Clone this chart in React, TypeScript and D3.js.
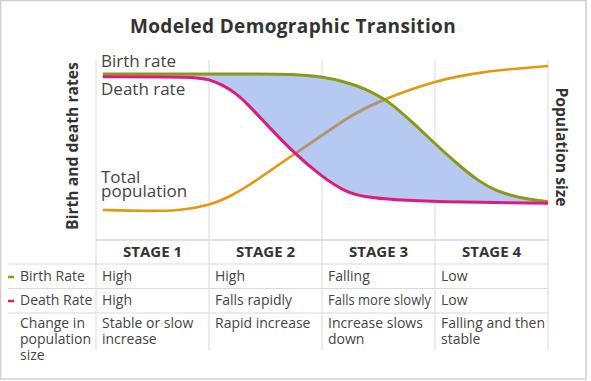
import React from "react";
import * as d3 from "d3";

// ---- Data (x positions in "stage" units 0..4) ----
const birthX = [0.06, 1.32, 1.76, 2.0, 2.2, 2.38, 2.56, 2.66, 2.83, 2.98, 3.19, 3.39, 3.54, 3.72, 4.0];
const birthRate = [41.71, 41.71, 41.71, 41.03, 39.77, 38.1, 35.32, 33.04, 28.8, 24.6, 19.14, 14.49, 12.21, 10.54, 9.43];

const deathX = [0.06, 0.885, 1.0, 1.12, 1.24, 1.35, 1.5, 1.76, 2.0, 2.2, 2.38, 2.66, 2.98, 4.0];
const deathRate = [41.03, 41.03, 40.37, 38.93, 36.83, 33.88, 29.25, 21.49, 15.75, 11.96, 10.54, 9.86, 9.43, 9.03];

const popX = [0.06, 0.44, 0.73, 1.0, 1.18, 1.33, 1.5, 1.76, 2.0, 2.2, 2.38, 2.56, 2.65, 2.98, 3.39, 4.0];
const popSize = [1.63, 1.57, 1.59, 1.87, 2.36, 2.92, 3.65, 4.8, 5.81, 6.71, 7.36, 7.85, 8.09, 8.84, 9.4, 9.72];

const stages = ["STAGE 1", "STAGE 2", "STAGE 3", "STAGE 4"];
const rowLabels = ["Birth Rate", "Death Rate"];
const birthRow = ["High", "High", "Falling", "Low"];
const deathRow = ["High", "Falls rapidly", "Falls more slowly", "Low"];
const changeRow = [
  ["Stable or slow", "increase"],
  ["Rapid increase"],
  ["Increase slows", "down"],
  ["Falling and then", "stable"],
];
const changeLabel = ["Change in", "population", "size"];

const COL_BIRTH = "#8a9a16";
const COL_DEATH = "#e0197f";
const COL_POP = "#e8960e";
const COL_FILL = "#b5c9f1";
const GRID = "#d9d9d9";
const TXT = "#444";
const FONT = "'Open Sans', sans-serif";

export default function App() {
  const x = d3.scaleLinear().domain([0, 4]).range([96, 548]);
  const yRate = d3.scaleLinear().domain([0, 45]).range([239, 61]);
  const yPop = d3.scaleLinear().domain([0, 10]).range([239, 61]);

  const birth = birthX.map((v, i) => [v, birthRate[i]] as [number, number]);
  const death = deathX.map((v, i) => [v, deathRate[i]] as [number, number]);
  const pop = popX.map((v, i) => [v, popSize[i]] as [number, number]);

  const rateLine = d3
    .line<[number, number]>()
    .x((d) => x(d[0]))
    .y((d) => yRate(d[1]))
    .curve(d3.curveBasis);
  const popLine = d3
    .line<[number, number]>()
    .x((d) => x(d[0]))
    .y((d) => yPop(d[1]))
    .curve(d3.curveBasis);

  const birthPath = rateLine(birth) || "";
  const deathPath = rateLine(death) || "";
  const deathRev = (rateLine([...death].reverse()) || "").replace(/^M/, "L");
  const fillPath = birthPath + deathRev + "Z";
  const popPath = popLine(pop) || "";

  const stageEdges = [0, 1, 2, 3, 4].map((s) => x(s));
  const rowYs = [264, 288.5, 313];

  return (
    <svg
      width={591}
      height={381}
      style={{ position: "absolute", left: 0, top: 0, background: "#fff" }}
      fontFamily={FONT}
    >
      <defs>
        <clipPath id="fillClip">
          <path d={fillPath} />
        </clipPath>
      </defs>
      <rect x={0.5} y={0.5} width={585.5} height={378.5} fill="#fff" stroke="#cfcfcf" strokeWidth={1.5} />

      <text x={293} y={33} textAnchor="middle" fontSize={19} fontWeight={700} fill="#333" letterSpacing={0.35}>
        Modeled Demographic Transition
      </text>

      {/* grid lines */}
      {stageEdges.map((sx, i) => (
        <line key={"v" + i} x1={sx} x2={sx} y1={60} y2={350} stroke={GRID} strokeWidth={1} />
      ))}
      <line x1={96} x2={548} y1={240} y2={240} stroke={GRID} strokeWidth={1.5} />
      {rowYs.map((ry, i) => (
        <line key={"h" + i} x1={8} x2={548} y1={ry} y2={ry} stroke={GRID} strokeWidth={1.2} />
      ))}

      {/* curves */}
      <path d={fillPath} fill={COL_FILL} stroke="none" />
      <path d={popPath} fill="none" stroke={COL_POP} strokeWidth={2.6} />
      <path d={popPath} fill="none" stroke="#a8977c" strokeWidth={2.6} clipPath="url(#fillClip)" />
      <path d={birthPath} fill="none" stroke={COL_BIRTH} strokeWidth={3} />
      <path d={deathPath} fill="none" stroke={COL_DEATH} strokeWidth={3} />

      {/* curve labels */}
      <text x={101} y={67} fontSize={17} fill={TXT}>Birth rate</text>
      <text x={101} y={95} fontSize={17} fill={TXT}>Death rate</text>
      <text x={101} y={183} fontSize={17} fill={TXT}>Total</text>
      <text x={101} y={197} fontSize={17} fill={TXT}>population</text>

      {/* axis titles */}
      <text
        transform={`translate(78,146) rotate(-90)`}
        textAnchor="middle"
        fontSize={15.7}
        fontWeight={700}
        fill="#333"
      >
        Birth and death rates
      </text>
      <text
        transform={`translate(556,147) rotate(90)`}
        textAnchor="middle"
        fontSize={15.7}
        fontWeight={700}
        fill="#333"
      >
        Population size
      </text>

      {/* table header */}
      {stages.map((s, i) => (
        <text
          key={s}
          x={(stageEdges[i] + stageEdges[i + 1]) / 2}
          y={257}
          textAnchor="middle"
          fontSize={15}
          fontWeight={700}
          fill="#333"
        >
          {s}
        </text>
      ))}

      {/* row labels */}
      <line x1={8} x2={14} y1={277} y2={277} stroke={COL_BIRTH} strokeWidth={2.5} />
      <line x1={8} x2={14} y1={301} y2={301} stroke={COL_DEATH} strokeWidth={2.5} />
      <text x={20} y={281} fontSize={14} fill={TXT}>{rowLabels[0]}</text>
      <text x={20} y={305} fontSize={14} fill={TXT}>{rowLabels[1]}</text>
      {changeLabel.map((t, i) => (
        <text key={t} x={20} y={328 + i * 16} fontSize={14} fill={TXT}>{t}</text>
      ))}

      {/* cells */}
      {birthRow.map((t, i) => (
        <text key={"b" + i} x={stageEdges[i] + 6} y={281} fontSize={14} fill={TXT}>{t}</text>
      ))}
      {deathRow.map((t, i) => (
        <text
          key={"d" + i}
          x={stageEdges[i] + 6}
          y={305}
          fontSize={14}
          fill={TXT}
          {...(t.length > 14 ? { textLength: 103, lengthAdjust: "spacingAndGlyphs" } : {})}
        >
          {t}
        </text>
      ))}
      {changeRow.map((lines, i) =>
        lines.map((t, j) => (
          <text key={"c" + i + j} x={stageEdges[i] + 6} y={328 + j * 16} fontSize={14} fill={TXT}>
            {t}
          </text>
        ))
      )}
    </svg>
  );
}
